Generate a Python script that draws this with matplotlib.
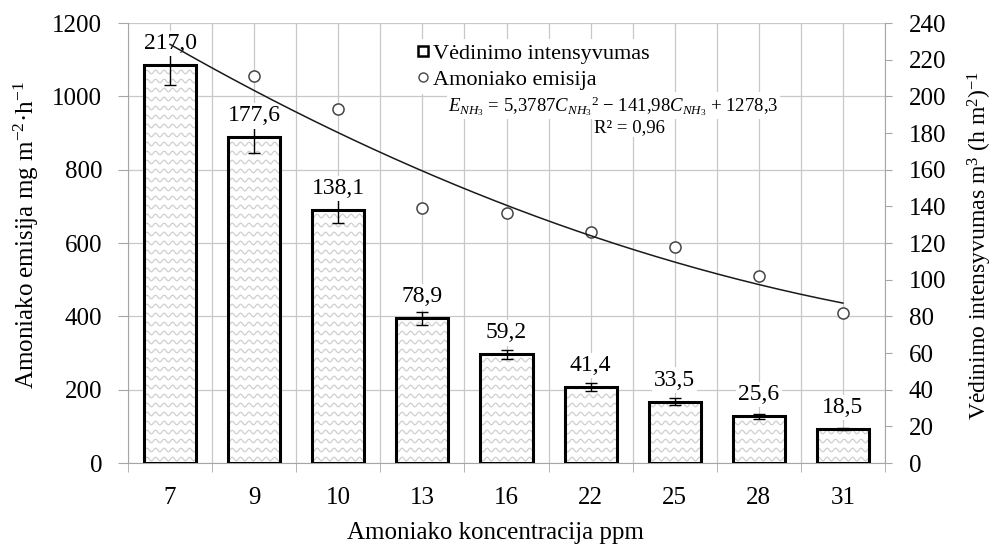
import numpy as np
import matplotlib
matplotlib.use('Agg')
import matplotlib.pyplot as plt
from matplotlib.collections import LineCollection
from matplotlib.lines import Line2D

plt.rcParams['font.family'] = 'Liberation Serif'
plt.rcParams['mathtext.fontset'] = 'custom'
plt.rcParams['mathtext.rm'] = 'Liberation Serif'
plt.rcParams['mathtext.it'] = 'Liberation Serif:italic'

# duomenys
concentrations = ['7', '9', '10', '13', '16', '22', '25', '28', '31']
ventilation = [217.0, 177.6, 138.1, 78.9, 59.2, 41.4, 33.5, 25.6, 18.5]
ventilation_err = [11.0, 8.7, 7.0, 3.5, 2.7, 2.2, 1.9, 1.4, 0.5]
emission = [1140, 1055, 965, 695, 682, 630, 589, 510, 409]
trend_coef = [5.3787, -141.98, 1278.3]  # E = a*C^2 + b*C + c

GRID = '#c8c8c8'
AXIS = '#a6a6a6'

fig = plt.figure(figsize=(9.97, 5.45), dpi=100)
ax = fig.add_axes([128 / 997, 82 / 545, 757 / 997, 440 / 545])
ax2 = ax.twinx()

x = np.arange(1, len(concentrations) + 1)

# Amoniako emisija (kairė ašis)
ax.plot(x, emission, 'o', ls='none', mfc='white', mec='#454545', ms=8, mew=1.1, zorder=3)

# Vėdinimo intensyvumas (dešinė ašis)
bar_w = 0.62
bars = ax2.bar(x, ventilation, bar_w, color='white', edgecolor='none', zorder=2)

# banguotas užpildas
w_px = fig.dpi * fig.get_figwidth() * ax.get_position().width
h_px = fig.dpi * fig.get_figheight() * ax.get_position().height
xs_px = np.arange(0, w_px, 0.5)
rows = []
for r in np.arange(4, h_px, 9.0):
    ys_px = r + 1.8 * np.sin(2 * np.pi * xs_px / 8.5)
    rows.append(np.column_stack([xs_px / w_px, ys_px / h_px]))
for b in bars:
    lc = LineCollection(rows, colors='#cfcfcf', linewidths=0.9, transform=ax2.transAxes, zorder=2.2)
    ax2.add_collection(lc, autolim=False)
    lc.set_clip_path(b)

ax2.bar(x, ventilation, bar_w, fill=False, edgecolor='black', linewidth=2.2, zorder=2.5)
ax2.errorbar(x, ventilation, yerr=ventilation_err, fmt='none', ecolor='black',
             elinewidth=1, capsize=4.5, capthick=1, zorder=3)

for xi, v in zip(x, ventilation):
    ax2.annotate(f'{v:.1f}'.replace('.', ','), (xi, v), xytext=(0, 11.5),
                 textcoords='offset points', ha='center', va='baseline', fontsize=17,
                 bbox=dict(fc='white', ec='none', pad=1.5), zorder=4)

# tendencijos linija
xt = np.linspace(1, 9, 200)
ax2.plot(xt, np.polyval(trend_coef, xt), color='#1a1a1a', lw=1.1, transform=ax.transData, zorder=5)

# ašys
ax.set_xlim(0.5, 9.5)
ax.set_ylim(0, 1200)
ax2.set_ylim(0, 240)
ax.set_yticks(np.arange(0, 1201, 200))
ax2.set_yticks(np.arange(0, 241, 20))
ax.set_xticks(x)
ax.set_xticklabels(concentrations)
ax.set_xticks(np.arange(0.5, 9.6, 1), minor=True)

ax.grid(True, which='both', axis='x', color=GRID, lw=0.9, zorder=0)
ax.grid(True, which='major', axis='y', color=GRID, lw=0.9, zorder=0)
ax.set_axisbelow(True)

for s in ['top', 'right']:
    ax.spines[s].set_visible(False)
for s in ['top', 'left', 'bottom']:
    ax2.spines[s].set_visible(False)
for s in ['left', 'bottom']:
    ax.spines[s].set_color(AXIS)
ax2.spines['right'].set_color(AXIS)

ax.tick_params(axis='y', direction='out', length=7.5, color=AXIS, labelsize=18, pad=11)
ax.tick_params(axis='x', which='major', length=0, labelsize=18, pad=17)
ax.tick_params(axis='x', which='minor', direction='out', length=6.5, color=AXIS)
ax2.tick_params(axis='y', direction='out', length=5, color=AXIS, labelsize=18, pad=12)

ax.set_xlabel('Amoniako koncentracija ppm', fontsize=18)
ax.xaxis.set_label_coords(0.486, -0.135)
ax.set_ylabel('Amoniako emisija mg m$^{-2}$·h$^{-1}$', fontsize=18)
ax.yaxis.set_label_coords(-0.115, 0.518)
ax2.set_ylabel('Vėdinimo intensyvumas m$^{3}$ (h m$^{2}$)$^{-1}$', fontsize=17, rotation=90)
ax2.yaxis.set_label_coords(1.107, 0.495)

handles = [Line2D([], [], marker='s', ls='none', mfc='white', mec='black', mew=1.8, ms=7.5),
           Line2D([], [], marker='o', ls='none', mfc='white', mec='#454545', mew=1.0, ms=6.5)]
leg = ax2.legend(handles, ['Vėdinimo intensyvumas', 'Amoniako emisija'],
                 loc='upper left', bbox_to_anchor=(0.36, 0.99), fontsize=16,
                 frameon=True, framealpha=1, edgecolor='none', fancybox=False,
                 handlelength=0.6, handletextpad=0.15, labelspacing=0.25, borderpad=0.2)
leg.set_zorder(6)

eq = '$E_{NH_3}$ = 5,3787$C_{NH_3}{}^{2}$ − 141,98$C_{NH_3}$ + 1278,3'
ax2.text(0.641, 0.80, eq, transform=ax2.transAxes, ha='center', va='baseline', fontsize=13.5,
         bbox=dict(fc='white', ec='none', pad=1), zorder=6)
ax2.text(0.662, 0.752, 'R² = 0,96', transform=ax2.transAxes, ha='center', va='baseline', fontsize=13.5,
         bbox=dict(fc='white', ec='none', pad=0.5), zorder=6)

fig.savefig('out.png', dpi=100)
